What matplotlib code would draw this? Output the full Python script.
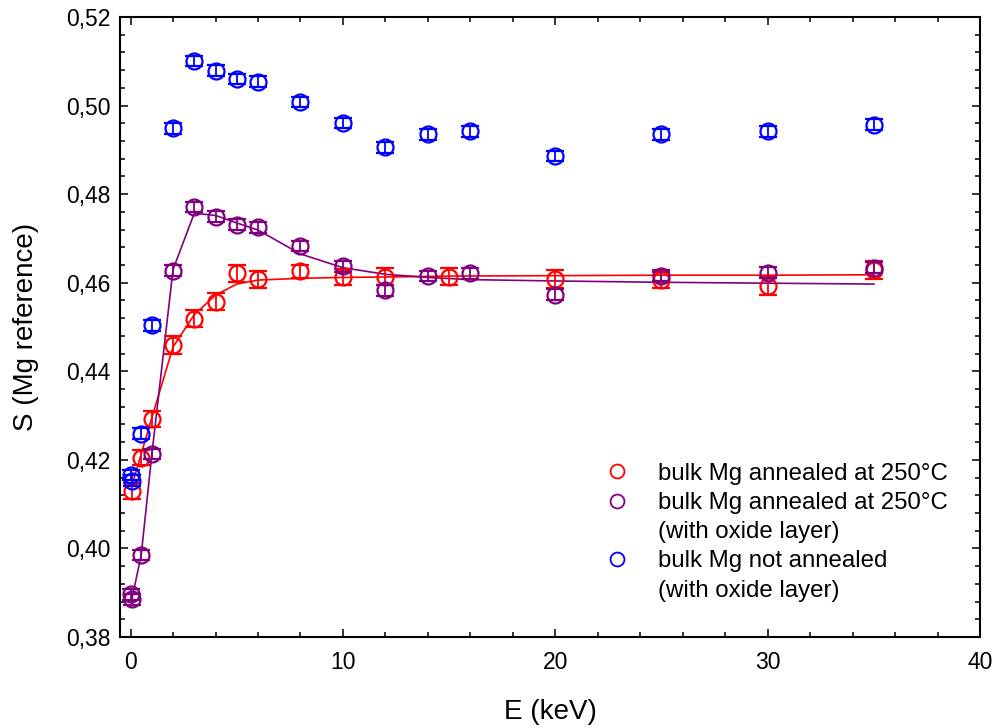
import numpy as np
import matplotlib
matplotlib.use("Agg")
import matplotlib.pyplot as plt
from matplotlib.lines import Line2D
from matplotlib.ticker import MultipleLocator, FuncFormatter

plt.rcParams['font.family'] = ['Liberation Sans', 'DejaVu Sans']

# bulk Mg annealed at 250C
e_red = [0.05, 0.5, 1, 2, 3, 4, 5, 6, 8, 10, 12, 15, 20, 25, 30, 35]
s_red = [0.4130, 0.4205, 0.4293, 0.4460, 0.4519, 0.4557, 0.4621, 0.4608,
         0.4626, 0.4612, 0.4614, 0.4614, 0.4608, 0.4606, 0.4592, 0.4628]
err_red = [0.0018, 0.0017, 0.0018, 0.0020, 0.0019, 0.0019, 0.0019, 0.0019,
           0.0015, 0.0018, 0.0019, 0.0020, 0.0020, 0.0019, 0.0020, 0.0020]

# bulk Mg annealed at 250C, with oxide layer
e_pur = [0.0, 0.05, 0.5, 1, 2, 3, 4, 5, 6, 8, 10, 12, 14, 16, 20, 25, 30, 35]
s_pur = [0.3896, 0.3885, 0.3985, 0.4213, 0.4627, 0.4771, 0.4749, 0.4731,
         0.4725, 0.4683, 0.4637, 0.4583, 0.4615, 0.4621, 0.4573, 0.4616,
         0.4623, 0.4634]
err_pur = [0.0012] * len(e_pur)

# bulk Mg not annealed, with oxide layer
e_blue = [0.0, 0.05, 0.5, 1, 2, 3, 4, 5, 6, 8, 10, 12, 14, 16, 20, 25, 30, 35]
s_blue = [0.4166, 0.4153, 0.4259, 0.4504, 0.4949, 0.5101, 0.5079, 0.5060,
          0.5054, 0.5008, 0.4961, 0.4906, 0.4935, 0.4942, 0.4886, 0.4935,
          0.4942, 0.4957]
err_blue = [0.0012] * len(e_blue)

# fit curves
fit_e_red = [0.05, 0.5, 1, 2, 3, 4, 5, 6, 8, 10, 12, 15, 20, 25, 30, 35]
fit_s_red = [0.4140, 0.4213, 0.4295, 0.4455, 0.4528, 0.4572, 0.4597, 0.4606,
             0.4610, 0.4612, 0.4613, 0.4615, 0.4616, 0.4617, 0.4617, 0.4618]
fit_e_pur = [0.05, 0.5, 1, 2, 3, 4, 5, 6, 8, 10, 12, 14, 16, 20, 25, 30, 35]
fit_s_pur = [0.3883, 0.3985, 0.4212, 0.4630, 0.4757, 0.4752, 0.4735, 0.4719,
             0.4665, 0.4634, 0.4619, 0.4612, 0.4607, 0.4604, 0.4601, 0.4599,
             0.4597]

RED = '#ff0000'
PUR = '#800080'
BLUE = '#0000ff'

fig = plt.figure(figsize=(9.98, 7.28), dpi=100)
ax = fig.add_axes([0.1202, 0.125, 0.982 - 0.1202, 0.9766 - 0.125])

ax.plot(fit_e_red, fit_s_red, color=RED, lw=1.2, zorder=2)
ax.plot(fit_e_pur, fit_s_pur, color=PUR, lw=1.2, zorder=2)

for e, s, err, c, z in [(e_red, s_red, err_red, RED, 3),
                        (e_pur, s_pur, err_pur, PUR, 4),
                        (e_blue, s_blue, err_blue, BLUE, 5)]:
    ax.errorbar(e, s, yerr=err, fmt='o', ms=11.5, mfc='none', mec=c, mew=1.6,
                ecolor=c, elinewidth=1.3, capsize=6.5, capthick=1.7, zorder=z)

ax.set_xlim(-0.5, 40)
ax.set_ylim(0.38, 0.52)
ax.xaxis.set_major_locator(MultipleLocator(10))
ax.xaxis.set_minor_locator(MultipleLocator(2))
ax.yaxis.set_major_locator(MultipleLocator(0.02))
ax.yaxis.set_minor_locator(MultipleLocator(0.004))
ax.yaxis.set_major_formatter(FuncFormatter(lambda v, p: f"{v:.2f}".replace('.', ',')))
ax.xaxis.set_major_formatter(FuncFormatter(lambda v, p: f"{v:.0f}"))

ax.tick_params(which='both', direction='in', top=True, right=True, width=1.1,
               labelsize=16.5)
ax.tick_params(which='major', length=6)
ax.tick_params(which='minor', length=3.5)
ax.tick_params(axis='y', pad=7)
ax.tick_params(axis='x', pad=10)
for sp in ax.spines.values():
    sp.set_linewidth(1.5)

ax.set_xlabel('E (keV)', fontsize=20, labelpad=18)
ax.set_ylabel('S (Mg reference)', fontsize=20, labelpad=19)

# legend: continuation lines get an empty handle so markers sit on first line
labels = ['bulk Mg annealed at 250°C', 'bulk Mg annealed at 250°C',
          '(with oxide layer)', 'bulk Mg not annealed', '(with oxide layer)']
handles = [Line2D([], [], ls='none', marker='o', ms=10, mfc='none', mec=RED, mew=1.3),
           Line2D([], [], ls='none', marker='o', ms=10, mfc='none', mec=PUR, mew=1.3),
           Line2D([], [], ls='none'),
           Line2D([], [], ls='none', marker='o', ms=10, mfc='none', mec=BLUE, mew=1.3),
           Line2D([], [], ls='none')]
ax.legend(handles, labels, loc='upper left', bbox_to_anchor=(0.564, 0.281),
          frameon=False, fontsize=17.3, handlelength=1.0, handletextpad=1.2,
          labelspacing=0.3, borderpad=0, borderaxespad=0)

fig.savefig('out.png', dpi=100)
